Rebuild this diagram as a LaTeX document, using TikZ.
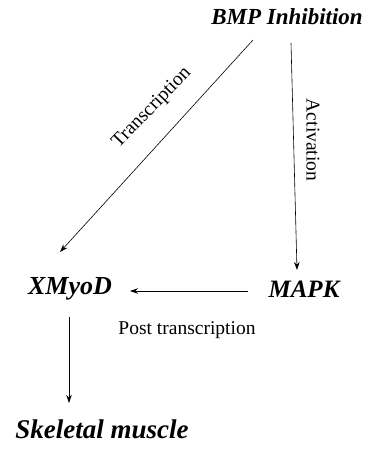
\documentclass[tikz,border=0pt]{standalone}
\usepackage{fontspec}
\setmainfont{Liberation Serif}
\usetikzlibrary{arrows.meta}
\begin{document}
\begin{tikzpicture}[x=1pt,y=-1pt,
  key/.style={font=\bfseries\itshape, inner sep=0pt},
  lbl/.style={font=\fontsize{19.5}{22}\selectfont, inner sep=0pt},
  link/.style={line width=0.6pt, -{Stealth[length=8pt,width=5.5pt]}}]
  \useasboundingbox (0,0) rectangle (365,453);
  % pathway members
  \node[key, font=\fontsize{23}{26}\selectfont\bfseries\itshape] (bmp) at (287,17) {BMP Inhibition};
  \node[key, font=\fontsize{26}{29}\selectfont\bfseries\itshape] (myod) at (70,289) {XMyoD};
  \node[key, font=\fontsize{25}{28}\selectfont\bfseries\itshape] (mapk) at (304,289) {MAPK};
  \node[key, font=\fontsize{27}{30}\selectfont\bfseries\itshape] (skm) at (102,429) {Skeletal muscle};
  % arrow end points next to the labels
  \coordinate (t0) at (253,40);
  \coordinate (t1) at (60,252);
  \coordinate (a0) at (291,43);
  \coordinate (a1) at (297,270);
  \coordinate (p0) at (248,291);
  \coordinate (p1) at (130,291);
  \coordinate (s0) at (69,317);
  \coordinate (s1) at (69,403);
  % regulatory links
  \draw[link] (t0) -- (t1);
  \node[lbl, rotate=46] (trans) at (152,108) {Transcription};
  \draw[link] (a0) -- (a1);
  \node[lbl, rotate=-90] (act) at (313,140) {Activation};
  \draw[link] (p0) -- (p1);
  \node[lbl] (post) at (187,330) {Post transcription};
  \draw[link] (s0) -- (s1);
\end{tikzpicture}
\end{document}
